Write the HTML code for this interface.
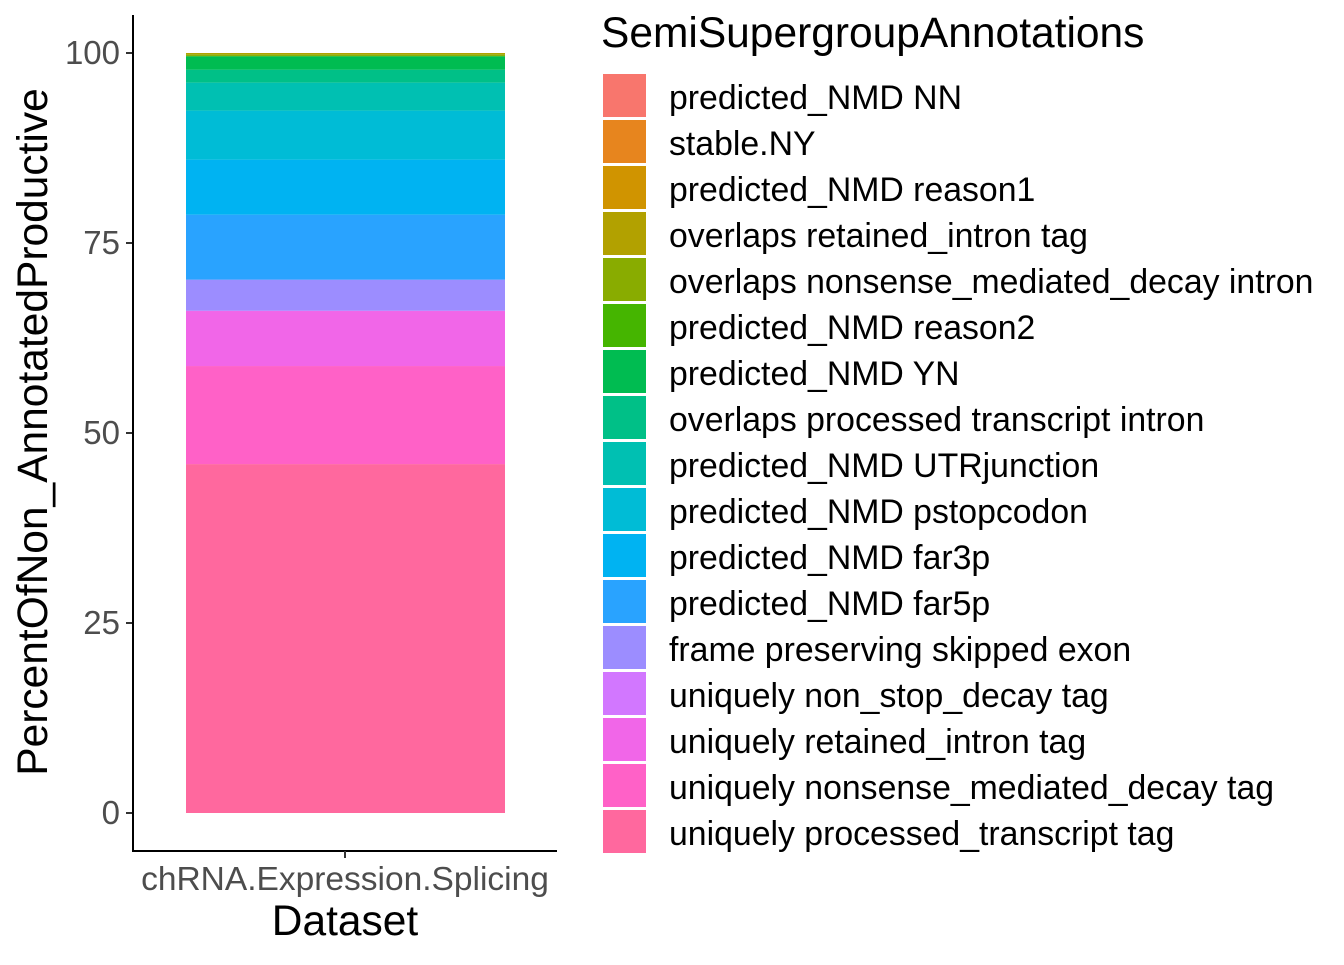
<!DOCTYPE html>
<html><head><meta charset="utf-8"><style>
body{margin:0;background:#fff;}
svg text{font-family:"Liberation Sans",Arial,sans-serif;}
</style></head><body>
<svg width="1344" height="960" xmlns="http://www.w3.org/2000/svg">
<g id="bars"></g>
<g id="yaxis"></g>
<line x1="133" y1="15" x2="133" y2="852" stroke="#000" stroke-width="2"/>
<line x1="132" y1="851" x2="557" y2="851" stroke="#000" stroke-width="2"/>
<line x1="345" y1="851" x2="345" y2="858" stroke="#333" stroke-width="2"/>
<text x="345" y="890" font-size="33.5" fill="#4d4d4d" text-anchor="middle">chRNA.Expression.Splicing</text>
<text x="345" y="935" font-size="42.5" fill="#000" text-anchor="middle">Dataset</text>
<text transform="translate(47,432) rotate(-90)" font-size="42.5" fill="#000" text-anchor="middle">PercentOfNon_AnnotatedProductive</text>
<text x="601" y="47" font-size="42.5" fill="#000">SemiSupergroupAnnotations</text>
<g id="legend"></g>
</svg>
<script>
const categories=["predicted_NMD NN","stable.NY","predicted_NMD reason1","overlaps retained_intron tag","overlaps nonsense_mediated_decay intron","predicted_NMD reason2","predicted_NMD YN","overlaps processed transcript intron","predicted_NMD UTRjunction","predicted_NMD pstopcodon","predicted_NMD far3p","predicted_NMD far5p","frame preserving skipped exon","uniquely non_stop_decay tag","uniquely retained_intron tag","uniquely nonsense_mediated_decay tag","uniquely processed_transcript tag"];
const values=[0,0,0,0.17,0.22,0.05,1.75,1.71,3.68,6.45,7.24,8.55,4.08,0.05,7.24,12.9,45.91];
const colors=["#F8766D","#E7851E","#D09400","#B2A100","#89AC00","#45B500","#00BC51","#00C087","#00C0B2","#00BCD6","#00B3F2","#29A3FF","#9C8DFF","#D277FF","#F166E8","#FF61C7","#FF689E"];
const yTicks=[0,25,50,75,100];
const NS="http://www.w3.org/2000/svg";
const y=v=>813-v*7.6;
const bars=document.getElementById('bars');
let cum=0;
for(let i=values.length-1;i>=0;i--){
  const r=document.createElementNS(NS,'rect');
  r.setAttribute('x',186);r.setAttribute('width',319);
  r.setAttribute('y',y(cum+values[i]));r.setAttribute('height',values[i]*7.6);
  r.setAttribute('fill',colors[i]);
  
  
  bars.appendChild(r);cum+=values[i];
}
const ya=document.getElementById('yaxis');
yTicks.forEach(t=>{
  const l=document.createElementNS(NS,'line');
  l.setAttribute('x1',126);l.setAttribute('x2',133);l.setAttribute('y1',y(t));l.setAttribute('y2',y(t));
  l.setAttribute('stroke','#333');l.setAttribute('stroke-width',2);
  
  
  ya.appendChild(l);
  const tx=document.createElementNS(NS,'text');
  tx.setAttribute('x',120);tx.setAttribute('y',y(t)+11);tx.setAttribute('text-anchor','end');
  tx.setAttribute('font-size',33);tx.setAttribute('fill','#4d4d4d');tx.textContent=t;
  
  
  ya.appendChild(tx);
});
const lg=document.getElementById('legend');
categories.forEach((c,i)=>{
  const r=document.createElementNS(NS,'rect');
  r.setAttribute('x',603);r.setAttribute('y',74+i*46);r.setAttribute('width',43);r.setAttribute('height',43);
  r.setAttribute('fill',colors[i]);
  
  
  lg.appendChild(r);
  const t=document.createElementNS(NS,'text');
  t.setAttribute('x',669);t.setAttribute('y',74+i*46+35);t.setAttribute('font-size',33.8);t.textContent=c;
  
  
  lg.appendChild(t);
});
</script>
</body></html>
